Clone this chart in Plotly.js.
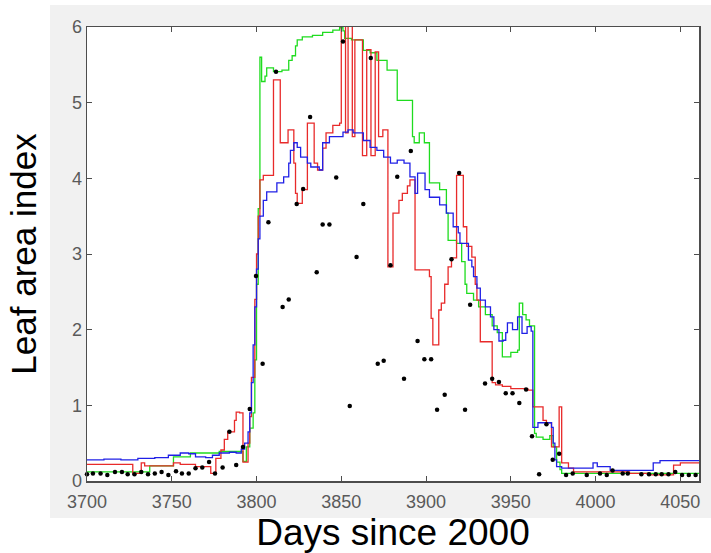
<!DOCTYPE html>
<html>
<head>
<meta charset="utf-8">
<script src="https://cdn.plot.ly/plotly-3.0.1.min.js"></script>
<style>
  html, body { margin: 0; padding: 0; background: #ffffff; }
  #chart { width: 711px; height: 553px; }
</style>
</head>
<body>
<div id="chart"></div>
<script>
// Leaf area index through one growing season (days since 2000).
// Step-wise model runs (green, red, blue) and observed values (black dots).

const greenDays = [3700, 3737, 3751, 3761, 3778, 3792, 3794, 3796, 3798, 3799, 3800, 3801, 3802, 3803, 3805, 3806, 3810, 3815, 3819, 3821, 3823, 3824, 3827, 3833, 3839, 3845, 3849, 3851, 3852, 3856, 3863, 3867, 3871, 3877, 3883, 3892, 3893, 3896, 3899, 3902, 3908, 3912, 3913, 3914, 3918, 3921, 3923, 3924, 3928, 3931, 3935, 3939, 3942, 3945, 3950, 3954, 3955, 3957, 3959, 3961, 3964, 3965, 3969, 3973, 3975, 3977, 3979, 3980, 4062];
const greenLAI = [0.12, 0.2, 0.32, 0.37, 0.39, 0.26, 0.45, 0.7, 0.9, 1.6, 2.6, 3.6, 5.6, 5.28, 5.35, 5.46, 5.41, 5.43, 5.56, 5.62, 5.75, 5.83, 5.87, 5.89, 5.93, 5.96, 5.99, 5.95, 5.85, 5.83, 5.69, 5.66, 5.56, 5.43, 5.03, 4.55, 4.47, 4.6, 4.47, 3.94, 3.85, 3.54, 3.18, 3.18, 3.14, 2.9, 2.6, 2.48, 2.39, 2.3, 2.2, 2.05, 1.96, 1.64, 1.7, 1.73, 2.35, 2.2, 2.13, 2.05, 0.63, 0.58, 0.55, 0.6, 0.45, 0.25, 0.15, 0.1, 0.1];

const redDays = [3700, 3727, 3732, 3734, 3751, 3755, 3764, 3773, 3776, 3779, 3781, 3783, 3787, 3788, 3790, 3792, 3795, 3796, 3797, 3799, 3800, 3801, 3802, 3804, 3810, 3814, 3818.6, 3822, 3823, 3824, 3827, 3830, 3834, 3836, 3839, 3841, 3845, 3849, 3850, 3852.5, 3854, 3856.5, 3858, 3862.5, 3865, 3867.5, 3870, 3872, 3874.5, 3877.5, 3880.5, 3884, 3886, 3889, 3890.5, 3893.5, 3902, 3903, 3904, 3907.5, 3909, 3911, 3913, 3915, 3918, 3922, 3924, 3927, 3929, 3930, 3932, 3939, 3941, 3945, 3950, 3955, 3960, 3963, 3969, 3971, 3974, 3978.5, 3980, 3984, 3987, 4020, 4032, 4046, 4050, 4062];
const redLAI = [0.22, 0.1, 0.24, 0.2, 0.24, 0.22, 0.19, 0.1, 0.3, 0.41, 0.55, 0.65, 0.8, 0.91, 0.9, 0.25, 0.5, 0.85, 1.37, 2.4, 3.0, 3.5, 3.98, 4.04, 5.3, 4.47, 4.64, 4.2, 3.8, 3.67, 3.85, 4.73, 4.2, 4.11, 4.4, 4.6, 4.7, 4.73, 6.1, 4.6, 6.1, 4.55, 5.83, 4.3, 5.7, 4.3, 5.67, 4.55, 4.64, 2.83, 3.54, 3.71, 3.8, 3.9, 3.98, 2.79, 2.7, 2.15, 1.8, 2.26, 2.35, 2.6, 2.83, 2.95, 4.04, 3.36, 3.1, 2.96, 2.6, 2.39, 1.84, 1.3, 1.27, 1.25, 1.22, 1.22, 1.2, 0.98, 0.8, 0.77, 0.45, 0.98, 0.24, 0.17, 0.12, 0.1, 0.08, 0.21, 0.24, 0.24];

const blueDays = [3700, 3710, 3720, 3730, 3740, 3748, 3755, 3760, 3764, 3770, 3774, 3778, 3784, 3788, 3791, 3793, 3795, 3796, 3797, 3798, 3799, 3800, 3801, 3802, 3804, 3806, 3812, 3816, 3819, 3820, 3822, 3824, 3826, 3830, 3832, 3837, 3839, 3843, 3851, 3854, 3857, 3863, 3867, 3871, 3875, 3879, 3883, 3887, 3890.5, 3893.5, 3895, 3899.4, 3902, 3908, 3912, 3916, 3919, 3920, 3925, 3927, 3928, 3930, 3932, 3935, 3938, 3940, 3943, 3945.5, 3947, 3948, 3951, 3954, 3956.6, 3959.6, 3962, 3963, 3966, 3974, 3975, 3976, 3977, 3980, 3998.5, 4001, 4008.6, 4034, 4038, 4062];
const blueLAI = [0.28, 0.29, 0.28, 0.3, 0.31, 0.34, 0.37, 0.36, 0.32, 0.31, 0.34, 0.37, 0.38, 0.37, 0.42, 0.5, 0.65, 0.9, 1.3, 1.8, 2.3, 2.8, 3.2, 3.5, 3.71, 3.82, 3.94, 4.02, 4.2, 4.37, 4.47, 4.41, 4.28, 4.2, 4.15, 4.11, 4.47, 4.55, 4.61, 4.64, 4.6, 4.5, 4.41, 4.37, 4.28, 4.2, 4.24, 4.2, 4.02, 3.8, 4.07, 3.85, 3.75, 3.65, 3.54, 3.36, 3.28, 3.14, 2.92, 2.83, 2.7, 2.55, 2.39, 2.3, 2.17, 2.0, 1.85, 1.86, 1.96, 2.09, 2.0, 2.17, 1.95, 2.04, 1.98, 0.71, 0.77, 0.71, 0.5, 0.28, 0.19, 0.17, 0.24, 0.19, 0.14, 0.24, 0.27, 0.27];

const obsDays = [3700, 3703.5, 3708, 3712, 3716.5, 3720.6, 3724, 3728, 3732, 3736, 3740, 3744, 3748, 3752.5, 3756, 3760, 3764, 3768, 3772, 3775.5, 3780, 3784, 3788, 3792, 3796, 3799.7, 3803.6, 3807, 3811.5, 3815.4, 3819, 3823.7, 3827.5, 3831.6, 3835.5, 3839, 3843, 3847, 3851, 3855, 3859, 3863, 3867.4, 3871.5, 3875, 3879, 3883, 3887, 3891, 3895, 3899, 3903, 3906.5, 3911, 3915, 3919.5, 3923, 3926, 3934.8, 3939, 3943, 3947, 3951, 3955, 3959, 3962.5, 3966.7, 3971, 3974.7, 3978.5, 3982.6, 3986.5, 3991, 3994.8, 3999, 4002.6, 4006.6, 4010, 4014, 4016, 4019, 4023, 4027, 4031.5, 4035.5, 4039, 4043, 4047, 4051, 4055, 4059];
const obsLAI = [0.09, 0.1, 0.1, 0.08, 0.12, 0.12, 0.09, 0.09, 0.12, 0.09, 0.1, 0.12, 0.08, 0.13, 0.1, 0.1, 0.17, 0.18, 0.25, 0.1, 0.18, 0.65, 0.21, 0.45, 0.95, 2.71, 1.55, 3.42, 5.41, 2.3, 2.4, 3.66, 3.86, 4.81, 2.76, 3.39, 3.39, 4.01, 5.81, 0.99, 2.96, 3.66, 5.59, 1.55, 1.59, 2.85, 4.02, 1.35, 4.36, 1.85, 1.61, 1.61, 0.94, 1.14, 2.93, 4.07, 0.94, 2.33, 1.29, 1.35, 1.31, 1.16, 1.16, 1.03, 1.21, 0.59, 0.09, 0.75, 0.28, 0.36, 0.08, 0.1, -0.04, 0.08, -0.03, 0.1, 0.08, 0.14, -0.04, 0.1, 0.1, -0.04, 0.09, 0.09, 0.09, 0.09, 0.09, 0.12, 0.08, 0.08, 0.08];

const xTicks = [3700, 3750, 3800, 3850, 3900, 3950, 4000, 4050];
const yTicks = [0, 1, 2, 3, 4, 5, 6];

function stepLine(x, y, color) {
  return {
    x: x, y: y, type: 'scatter', mode: 'lines',
    line: { color: color, width: 1.3, shape: 'hv' },
    hoverinfo: 'x+y'
  };
}

const traces = [
  stepLine(greenDays, greenLAI, '#1fdc1f'),
  stepLine(redDays, redLAI, '#e82a2a'),
  stepLine(blueDays, blueLAI, '#2020e6'),
  {
    x: obsDays, y: obsLAI, type: 'scatter', mode: 'markers',
    marker: { color: '#000000', size: 4.5 },
    cliponaxis: false
  }
];

const axisCommon = {
  showline: true, linecolor: '#4d4d4d', linewidth: 1.5,
  mirror: 'ticks', ticks: 'inside', ticklen: 5, tickwidth: 1, tickcolor: '#4d4d4d',
  showgrid: false, zeroline: false,
  tickfont: { family: 'Liberation Sans, Arial, sans-serif', size: 18, color: '#5a5a5a' }
};

const layout = {
  width: 711, height: 553,
  margin: { l: 87, r: 12, t: 27, b: 72, pad: 0 },
  paper_bgcolor: '#ffffff',
  plot_bgcolor: 'rgba(0,0,0,0)',
  showlegend: false,
  font: { family: 'Liberation Sans, Arial, sans-serif' },
  xaxis: Object.assign({}, axisCommon, {
    range: [3700, 4061], tickmode: 'array', tickvals: xTicks, ticktext: xTicks.map(String),
    ticklabelstandoff: 4,
    title: { text: 'Days since 2000', font: { size: 37, color: '#000000' }, standoff: 8 }
  }),
  yaxis: Object.assign({}, axisCommon, {
    range: [0, 6], tickmode: 'array', tickvals: yTicks, ticktext: yTicks.map(String),
    title: { text: 'Leaf area index', font: { size: 35, color: '#000000' }, standoff: 24 }
  }),
  shapes: [
    // grey figure frame behind the axes
    { type: 'rect', xref: 'paper', yref: 'paper', x0: -0.0605, x1: 1.02, y0: -0.0815, y1: 1.0485,
      fillcolor: '#f1f1f1', line: { width: 0 }, layer: 'below' },
    // white plotting area
    { type: 'rect', xref: 'paper', yref: 'paper', x0: 0, x1: 1, y0: 0, y1: 1,
      fillcolor: '#ffffff', line: { width: 0 }, layer: 'below' }
  ]
};

Plotly.newPlot('chart', traces, layout, { displayModeBar: false, staticPlot: true });
</script>
</body>
</html>
